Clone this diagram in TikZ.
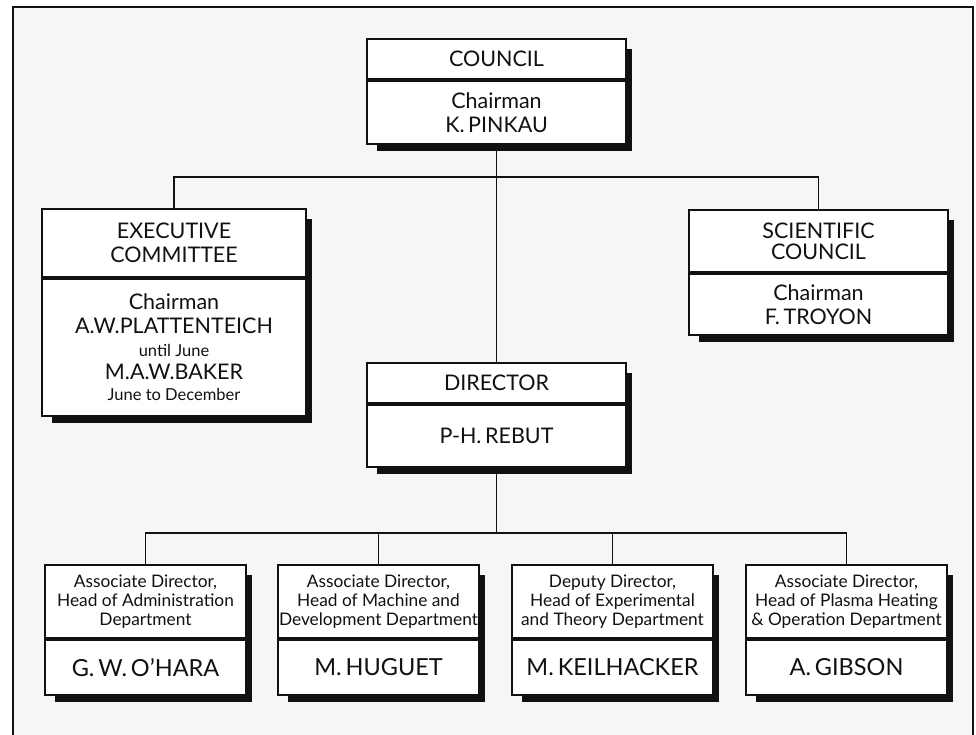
\documentclass[tikz,border=0pt]{standalone}
\usepackage{fontspec}
\setmainfont{Lato}
\usetikzlibrary{positioning,backgrounds}
\definecolor{chartink}{HTML}{111111}
\definecolor{chartpaper}{HTML}{F6F6F6}

\begin{document}
\begin{tikzpicture}[
  x=1pt,
  y=-1pt,
  every node/.style={font=\fontsize{21.5}{24}\selectfont, text=chartink},
  unitbox/.style={draw=chartink, fill=white, line width=1.8pt, inner sep=0pt,
    align=center, minimum width=259},
  deptbox/.style={unitbox, minimum width=201},
  depttext/.style={font=\fontsize{17.3}{19}\selectfont},
  nametext/.style={font=\fontsize{23.5}{26}\selectfont}
]
  \useasboundingbox (0,0) rectangle (976,735);

  % top level
  \node[unitbox, minimum height=40] (councilhead) at (496.5,59) {COUNCIL};
  \node[unitbox, minimum height=63, below=0pt of councilhead] (council)
    {Chairman\\K.\,PINKAU};

  \node[unitbox, minimum width=264, minimum height=68] (exechead) at (174,243)
    {EXECUTIVE\\COMMITTEE};
  \node[unitbox, minimum width=264, minimum height=137, below=0pt of exechead] (exec)
    {Chairman\\A.W.PLATTENTEICH\\[-1pt]
     {\fontsize{16.5}{18}\selectfont until June}\\[-1pt]
     M.A.W.BAKER\\[-3pt]
     {\fontsize{16.5}{18}\selectfont June to December}};

  \node[unitbox, minimum height=62, font=\fontsize{21.5}{21}\selectfont] (scihead) at (818.5,241)
    {SCIENTIFIC\\COUNCIL};
  \node[unitbox, minimum height=61, below=0pt of scihead] (sci)
    {Chairman\\F.\,TROYON};

  \node[unitbox, minimum height=40] (directorhead) at (496.5,383) {DIRECTOR};
  \node[unitbox, minimum height=62, below=0pt of directorhead] (director)
    {P-H.\,REBUT};

  % departments
  \node[deptbox, depttext, minimum height=73] (admhead) at (145.5,601.5)
    {Associate Director,\\Head of Administration\\Department};
  \node[deptbox, nametext, minimum height=55, below=0pt of admhead] (adm)
    {G.\,W.\,O'HARA};

  \node[deptbox, depttext, minimum height=73] (machead) at (378.5,601.5)
    {Associate Director,\\Head of Machine and\\Development Department};
  \node[deptbox, nametext, minimum height=55, below=0pt of machead] (mac)
    {M.\,HUGUET};

  \node[deptbox, depttext, minimum height=73] (exphead) at (612.5,601.5)
    {Deputy Director,\\Head of Experimental\\and Theory Department};
  \node[deptbox, nametext, minimum height=55, below=0pt of exphead] (exp)
    {M.\,KEILHACKER};

  \node[deptbox, depttext, minimum height=73] (plahead) at (846.5,601.5)
    {Associate Director,\\Head of Plasma Heating\\\& Operation Department};
  \node[deptbox, nametext, minimum height=55, below=0pt of plahead] (pla)
    {A.\,GIBSON};

  \coordinate (topbus) at (496.5,177);
  \coordinate (lowbus) at (496.5,533);

  \begin{scope}[on background layer]
    \draw[chartink, fill=chartpaper, line width=1.5pt] (13,7) rectangle (973,745);
    \foreach \h/\b in {councilhead/council, exechead/exec, scihead/sci,
                       directorhead/director, admhead/adm, machead/mac,
                       exphead/exp, plahead/pla}
      \fill[chartink] ([shift={(11,11)}]\h.north west) rectangle ([shift={(5,6)}]\b.south east);

    \draw[chartink, line width=1.5pt] (council.south) -- (directorhead.north);
    \draw[chartink, line width=1.5pt] (exechead.north) |- (topbus) -| (scihead.north);
    \draw[chartink, line width=1.5pt] (director.south) -- (lowbus);
    \draw[chartink, line width=1.5pt] (admhead.north) |- (lowbus) -| (plahead.north);
    \foreach \h in {machead, exphead}
      \draw[chartink, line width=1.5pt] (\h.north) |- (lowbus);
  \end{scope}
\end{tikzpicture}
\end{document}
